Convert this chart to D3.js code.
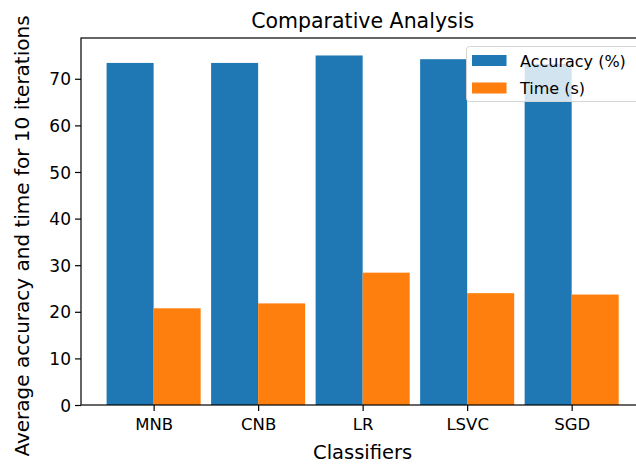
<!DOCTYPE html>
<html>
<head>
<meta charset="utf-8">
<script src="https://cdn.jsdelivr.net/npm/d3@7"></script>
<style>
  html, body { margin: 0; padding: 0; background: #fff; overflow: hidden; }
  text { font-family: "DejaVu Sans", sans-serif; fill: #000; }
</style>
</head>
<body>
<svg id="chart" width="636" height="464"></svg>
<script>
const categories = ["MNB", "CNB", "LR", "LSVC", "SGD"];
const accuracy = [73.4, 73.4, 75.0, 74.2, 73.2];
const timeS = [20.75, 21.8, 28.4, 24.0, 23.7];
const seriesNames = ["Accuracy (%)", "Time (s)"];
const yTicks = [0, 10, 20, 30, 40, 50, 60, 70];

const colors = ["#1f77b4", "#ff7f0e"];
const svg = d3.select("#chart");

const mL = 81, mR = 644.3, mT = 38, mB = 405;
const barW = 0.45;
const x = d3.scaleLinear().domain([-0.695, categories.length - 1 + 0.695]).range([mL, mR]);
const y = d3.scaleLinear().domain([0, 78.75]).range([mB, mT]);

const g = svg.append("g");

// bars
const series = [accuracy, timeS];
series.forEach((vals, si) => {
  g.selectAll(".bar" + si)
    .data(vals)
    .enter().append("rect")
    .attr("class", "bar" + si)
    .attr("x", (d, i) => x(i + (si === 0 ? -barW : 0)))
    .attr("width", x(barW) - x(0))
    .attr("y", d => y(d))
    .attr("height", d => y(0) - y(d))
    .attr("fill", colors[si]);
});

// axes
const yAxis = d3.axisLeft(y).tickValues(yTicks).tickSize(6).tickPadding(4).tickFormat(d3.format("d"));
const yg = svg.append("g").attr("transform", `translate(${mL},0)`).call(yAxis);
yg.select(".domain").remove();
yg.selectAll("line").attr("stroke", "#000").attr("stroke-width", 1.2);
yg.selectAll("text").style("font-size", "17px").attr("font-family", "DejaVu Sans").attr("dy", "0.36em");

const xAxis = d3.axisBottom(x).tickValues(d3.range(categories.length)).tickSize(6).tickPadding(5)
  .tickFormat(i => categories[i]);
const xg = svg.append("g").attr("transform", `translate(0,${mB})`).call(xAxis);
xg.select(".domain").remove();
xg.selectAll("line").attr("stroke", "#000").attr("stroke-width", 1.2);
xg.selectAll("text").style("font-size", "16.5px").attr("font-family", "DejaVu Sans").attr("dy", "0.85em");

// spines
svg.append("rect")
  .attr("x", mL).attr("y", mT)
  .attr("width", mR - mL).attr("height", mB - mT)
  .attr("fill", "none").attr("stroke", "#000").attr("stroke-width", 1.2);

// title
svg.append("text")
  .attr("x", (mL + mR) / 2).attr("y", 27.5)
  .attr("text-anchor", "middle")
  .style("font-size", "20.5px")
  .text("Comparative Analysis");

// x label
svg.append("text")
  .attr("x", (mL + mR) / 2).attr("y", 459)
  .attr("text-anchor", "middle")
  .style("font-size", "19.5px")
  .text("Classifiers");

// y label
svg.append("text")
  .attr("transform", `translate(29,236) rotate(-90)`)
  .attr("text-anchor", "middle")
  .style("font-size", "20px")
  .text("Average accuracy and time for 10 iterations");

// legend
const lg = svg.append("g");
lg.append("rect")
  .attr("x", 466.5).attr("y", 46.5)
  .attr("width", 176).attr("height", 55)
  .attr("rx", 3)
  .attr("fill", "rgba(255,255,255,0.8)")
  .attr("stroke", "#d6d6d6").attr("stroke-width", 1);
seriesNames.forEach((name, i) => {
  lg.append("rect")
    .attr("x", 472).attr("y", 55 + i * 27.5)
    .attr("width", 34.5).attr("height", 11)
    .attr("fill", colors[i]);
  lg.append("text")
    .attr("x", 520).attr("y", 66.5 + i * 27.5)
    .style("font-size", "16px")
    .text(name);
});
</script>
</body>
</html>
